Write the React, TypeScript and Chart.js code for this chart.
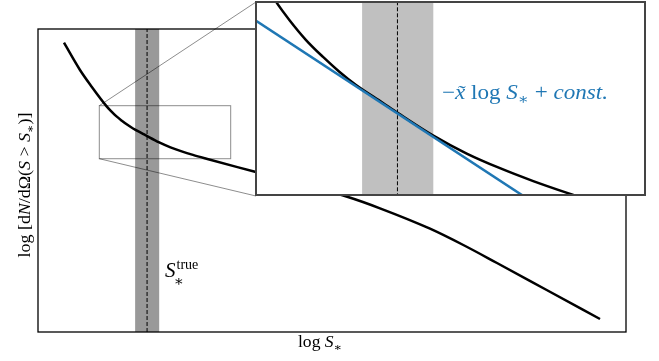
import React, { useEffect, useRef } from "react";
import { Chart, registerables } from "chart.js";
Chart.register(...registerables);

// ---- data (arbitrary log units) ----
const curveX = [0.442, 0.714, 0.913, 1.157, 1.234, 1.33, 1.426, 1.521, 1.617, 1.77, 1.856, 2.061, 2.253, 2.444, 2.635, 2.865, 3.69, 5.272, 5.816, 6.667, 7.233, 7.806, 8.651, 9.558];
const curveY = [9.548, 8.647, 8.096, 7.472, 7.306, 7.124, 6.973, 6.837, 6.716, 6.556, 6.465, 6.258, 6.095, 5.962, 5.845, 5.719, 5.287, 4.455, 4.082, 3.41, 2.871, 2.277, 1.386, 0.429];
const tangentX = [1.0, 2.7];
const tangentY = [7.344, 5.584];
const sTrue = 1.855;
const sBand = [1.652, 2.061];
const mainXRange = [0, 10];
const mainYRange = [0, 10];
const zoomXRange = [1.0425, 3.277];
const zoomYRange = [5.719, 7.469];

// ---- labels ----
type Seg = { t: string; it?: boolean; s?: number; dy?: number };
const xLabel: Seg[] = [{ t: "log " }, { t: "S", it: true }, { t: "∗", s: 0.7, dy: 0.25 }];
const yLabel: Seg[] = [
  { t: "log [d" }, { t: "N", it: true }, { t: "/dΩ(" }, { t: "S", it: true }, { t: " > " },
  { t: "S", it: true }, { t: "∗", s: 0.7, dy: 0.25 }, { t: ")]" },
];
const formula: Seg[] = [
  { t: "−" }, { t: "x̃", it: true }, { t: " log " }, { t: "S", it: true }, { t: "∗", s: 0.7, dy: 0.25 },
  { t: " + " }, { t: "const.", it: true },
];
const sTrueMain = "S";
const sTrueSup = "true";
const sTrueSub = "∗";

const FAMILY = '"Liberation Serif", "DejaVu Serif", serif';
const BLUE = "#1f77b4";

function fontOf(seg: Seg, size: number) {
  return `${seg.it ? "italic " : ""}${size * (seg.s ?? 1)}px ${FAMILY}`;
}
function richWidth(ctx: CanvasRenderingContext2D, segs: Seg[], size: number) {
  let w = 0;
  for (const s of segs) {
    ctx.font = fontOf(s, size);
    w += ctx.measureText(s.t).width;
  }
  return w;
}
function drawRich(ctx: CanvasRenderingContext2D, segs: Seg[], x: number, y: number, size: number, color: string, align: "left" | "center", sx = 1) {
  ctx.save();
  ctx.fillStyle = color;
  ctx.textBaseline = "alphabetic";
  ctx.textAlign = "left";
  ctx.translate(x, y);
  ctx.scale(sx, 1);
  let cx = align === "center" ? -richWidth(ctx, segs, size) / 2 : 0;
  for (const s of segs) {
    ctx.font = fontOf(s, size);
    ctx.fillText(s.t, cx, (s.dy ?? 0) * size);
    cx += ctx.measureText(s.t).width;
  }
  ctx.restore();
}

// layout (pixels)
const W = 659, H = 361;
const INSET = { left: 255, top: 1, width: 391, height: 195 };

const mainPlugin = {
  id: "mainDecor",
  beforeDatasetsDraw(chart: any) {
    const { ctx, chartArea: a, scales } = chart;
    const x0 = scales.x.getPixelForValue(sBand[0]);
    const x1 = scales.x.getPixelForValue(sBand[1]);
    ctx.save();
    ctx.fillStyle = "#999999";
    ctx.fillRect(x0, a.top, x1 - x0, a.bottom - a.top);
    ctx.restore();
  },
  afterDatasetsDraw(chart: any) {
    const { ctx, chartArea: a, scales } = chart;
    ctx.save();
    // frame
    ctx.strokeStyle = "#000";
    ctx.lineWidth = 1.3;
    ctx.strokeRect(a.left, a.top, a.right - a.left, a.bottom - a.top);
    // zoom rectangle
    const rx0 = scales.x.getPixelForValue(zoomXRange[0]);
    const rx1 = scales.x.getPixelForValue(zoomXRange[1]);
    const ry0 = scales.y.getPixelForValue(zoomYRange[1]);
    const ry1 = scales.y.getPixelForValue(zoomYRange[0]);
    ctx.strokeStyle = "rgba(0,0,0,0.45)";
    ctx.lineWidth = 1;
    ctx.strokeRect(rx0, ry0, rx1 - rx0, ry1 - ry0);
    // connectors
    const ix = INSET.left + 1, iyTop = INSET.top + 1, iyBot = INSET.top + INSET.height;
    ctx.beginPath();
    ctx.moveTo(rx0, ry0); ctx.lineTo(ix, iyTop);
    ctx.moveTo(rx0, ry1); ctx.lineTo(ix, iyBot);
    ctx.stroke();
    ctx.restore();

    // S_true label
    ctx.save();
    ctx.fillStyle = "#000";
    ctx.textBaseline = "alphabetic";
    const sx = 165, sy = 277;
    ctx.font = `italic 21px ${FAMILY}`;
    ctx.fillText(sTrueMain, sx, sy);
    const w = ctx.measureText(sTrueMain).width;
    ctx.font = `14px ${FAMILY}`;
    ctx.fillText(sTrueSup, sx + w + 1, sy - 8);
    ctx.font = `15px ${FAMILY}`;
    ctx.fillText(sTrueSub, sx + w - 2, sy + 9);
    ctx.restore();

    // axis labels
    drawRich(ctx, xLabel, 320, 347, 16, "#000", "center", 1.1);
    ctx.save();
    ctx.translate(30, 185);
    ctx.rotate(-Math.PI / 2);
    drawRich(ctx, yLabel, 0, 0, 16, "#000", "center", 1.12);
    ctx.restore();
  },
};

const insetPlugin = {
  id: "insetDecor",
  beforeDraw(chart: any) {
    const { ctx } = chart;
    ctx.save();
    ctx.fillStyle = "#fff";
    ctx.fillRect(0, 0, chart.width, chart.height);
    ctx.restore();
  },
  beforeDatasetsDraw(chart: any) {
    const { ctx, chartArea: a, scales } = chart;
    const x0 = scales.x.getPixelForValue(sBand[0]);
    const x1 = scales.x.getPixelForValue(sBand[1]);
    ctx.save();
    ctx.fillStyle = "#c0c0c0";
    ctx.fillRect(x0, a.top, x1 - x0, a.bottom - a.top);
    ctx.restore();
  },
  afterDatasetsDraw(chart: any) {
    const { ctx, chartArea: a } = chart;
    ctx.save();
    ctx.strokeStyle = "#444";
    ctx.lineWidth = 2;
    ctx.strokeRect(a.left, a.top, a.right - a.left, a.bottom - a.top);
    ctx.restore();
    drawRich(ctx, formula, a.left + 186, a.top + 97, 21, BLUE, "left", 1.1);
  },
};

const pts = (xs: number[], ys: number[]) => xs.map((x, i) => ({ x, y: ys[i] }));

export default function App() {
  const mainRef = useRef<HTMLCanvasElement>(null);
  const insetRef = useRef<HTMLCanvasElement>(null);

  useEffect(() => {
    document.body.style.margin = "0";
    const main = new Chart(mainRef.current!, {
      type: "line",
      data: {
        datasets: [
          { data: pts(curveX, curveY), borderColor: "#000", borderWidth: 2.5, pointRadius: 0, cubicInterpolationMode: "monotone", fill: false },
          { data: [{ x: sTrue, y: mainYRange[0] }, { x: sTrue, y: mainYRange[1] }], borderColor: "#000", borderWidth: 1, borderDash: [4, 2], pointRadius: 0, fill: false },
        ],
      },
      options: {
        animation: false,
        responsive: false,
        events: [],
        layout: { padding: { left: 38, top: 29, right: 33, bottom: 29 } },
        plugins: { legend: { display: false }, tooltip: { enabled: false } },
        scales: {
          x: { type: "linear", min: mainXRange[0], max: mainXRange[1], display: false },
          y: { type: "linear", min: mainYRange[0], max: mainYRange[1], display: false },
        },
      },
      plugins: [mainPlugin],
    } as any);

    const inset = new Chart(insetRef.current!, {
      type: "line",
      data: {
        datasets: [
          { data: pts(tangentX, tangentY), borderColor: BLUE, borderWidth: 2.5, pointRadius: 0, fill: false },
          { data: [{ x: sTrue, y: zoomYRange[0] - 1 }, { x: sTrue, y: zoomYRange[1] + 1 }], borderColor: "#000", borderWidth: 1, borderDash: [4, 2], pointRadius: 0, fill: false },
          { data: pts(curveX, curveY), borderColor: "#000", borderWidth: 2.5, pointRadius: 0, cubicInterpolationMode: "monotone", fill: false },
        ],
      },
      options: {
        animation: false,
        responsive: false,
        events: [],
        layout: { padding: 1 },
        plugins: { legend: { display: false }, tooltip: { enabled: false } },
        scales: {
          x: { type: "linear", min: zoomXRange[0], max: zoomXRange[1], display: false },
          y: { type: "linear", min: zoomYRange[0], max: zoomYRange[1], display: false },
        },
      },
      plugins: [insetPlugin],
    } as any);

    return () => {
      main.destroy();
      inset.destroy();
    };
  }, []);

  return (
    <div style={{ position: "absolute", left: 0, top: 0, width: W, height: H, background: "#fff" }}>
      <canvas ref={mainRef} width={W} height={H} style={{ position: "absolute", left: 0, top: 0, width: W, height: H }} />
      <canvas
        ref={insetRef}
        width={INSET.width}
        height={INSET.height}
        style={{ position: "absolute", left: INSET.left, top: INSET.top, width: INSET.width, height: INSET.height }}
      />
    </div>
  );
}
